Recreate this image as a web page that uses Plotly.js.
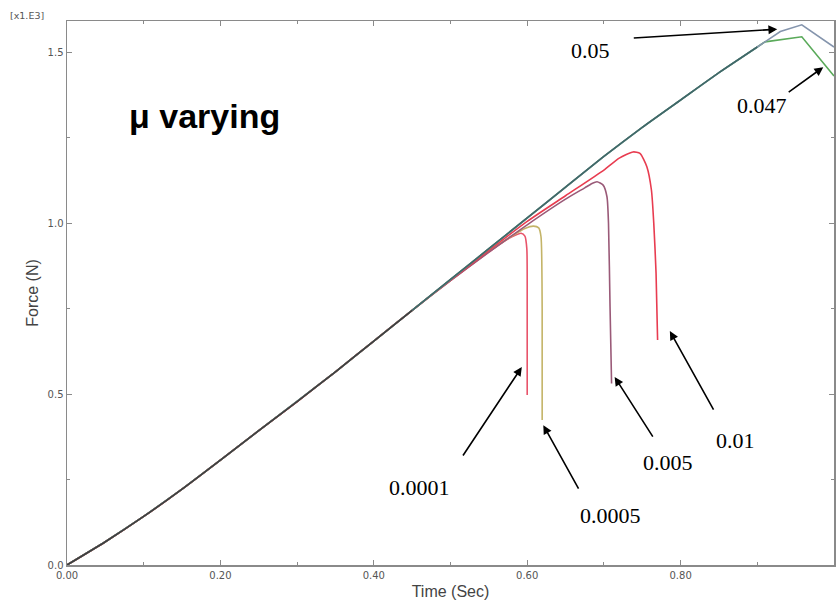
<!DOCTYPE html>
<html>
<head>
<meta charset="utf-8">
<script src="https://cdn.plot.ly/plotly-3.0.1.min.js"></script>
<style>html,body{margin:0;padding:0;background:#fff;}#chart{width:837px;height:602px;}</style>
</head>
<body>
<div id="chart"></div>
<script>
// Shared loading curve (all friction values), time in s, force in kN (x1.E3 N)
const tBase = [0, 0.05, 0.1, 0.15, 0.2, 0.25, 0.3, 0.35, 0.4, 0.45];
const fBase = [0, 0.068, 0.142, 0.222, 0.307, 0.393, 0.478, 0.565, 0.655, 0.745];

// Shared part of mu = 0.05 and mu = 0.047
const tUpper = [0.5, 0.55, 0.6, 0.65, 0.7, 0.75, 0.8, 0.85, 0.9];
const fUpper = [0.835, 0.925, 1.015, 1.105, 1.195, 1.28, 1.36, 1.44, 1.515];

// Series tails after divergence
const t005 = [0.93, 0.958, 1.0];
const f005 = [1.56, 1.58, 1.515];

const t0047 = [0.91, 0.958, 1.0];
const f0047 = [1.53, 1.545, 1.43];

const t001 = [0.5, 0.55, 0.6, 0.65, 0.7, 0.72, 0.738, 0.747, 0.756, 0.762, 0.765, 0.768, 0.770];
const f001 = [0.833, 0.92, 1.005, 1.08, 1.155, 1.19, 1.208, 1.204, 1.165, 1.096, 1.0, 0.853, 0.658];

const t0005 = [0.5, 0.55, 0.6, 0.65, 0.675, 0.684, 0.691, 0.699, 0.704, 0.706, 0.708, 0.710];
const f0005 = [0.832, 0.915, 0.995, 1.07, 1.103, 1.115, 1.121, 1.111, 1.077, 0.999, 0.755, 0.531];

const t00005 = [0.5, 0.55, 0.58, 0.597, 0.608, 0.615, 0.618, 0.6195, 0.6195];
const f00005 = [0.833, 0.918, 0.962, 0.984, 0.991, 0.986, 0.96, 0.75, 0.424];

const t00001 = [0.5, 0.55, 0.57, 0.585, 0.592, 0.597, 0.5995, 0.6, 0.6];
const f00001 = [0.832, 0.915, 0.947, 0.965, 0.970, 0.962, 0.925, 0.75, 0.497];

const labels = ['0.0001', '0.0005', '0.005', '0.01', '0.047', '0.05'];

function line(x, y, color, name, smooth) {
  const ln = {color: color, width: 1.6, shape: smooth ? 'spline' : 'linear'};
  if (smooth) ln.smoothing = smooth;
  return {x: x, y: y, type: 'scatter', mode: 'lines', name: name, line: ln, hoverinfo: 'skip'};
}

const traces = [
  line(tBase.concat(t00001), fBase.concat(f00001), '#e8546a', labels[0], 0.6),
  line(tBase.concat(t00005), fBase.concat(f00005), '#c4b468', labels[1], 0.6),
  line(tBase.concat(t0005), fBase.concat(f0005), '#9a5a78', labels[2], 0.6),
  line(tBase.concat(t001), fBase.concat(f001), '#e83c50', labels[3], 0.6),
  line(tBase.concat(tUpper, t0047), fBase.concat(fUpper, f0047), '#5aaa5a', labels[4]),
  line(tBase.concat(tUpper, t005), fBase.concat(fUpper, f005), '#8595ad', labels[5]),
  line(tBase.slice(-1).concat(tUpper), fBase.slice(-1).concat(fUpper), '#3f6868', 'shared', 0.6),
  line(tBase, fBase, '#3e3e3e', 'base', 0.6)
];

const numFont = {family: 'Liberation Serif', size: 22, color: '#000'};
function label(text, x, y) {
  return {x: x, y: y, xref: 'x', yref: 'y', text: text, showarrow: false,
          font: numFont, xanchor: 'center', yanchor: 'middle'};
}
function arrow(x0, y0, x1, y1) {
  return {x: x1, y: y1, ax: x0, ay: y0, xref: 'x', yref: 'y', axref: 'x', ayref: 'y',
          text: '', showarrow: true, arrowhead: 2, arrowsize: 1.1, arrowwidth: 1.6,
          arrowcolor: '#000', standoff: 0, startstandoff: 0};
}

const annotations = [
  label(labels[5], 0.683, 1.506), arrow(0.737, 1.541, 0.926, 1.567),
  label(labels[4], 0.906, 1.345), arrow(0.939, 1.380, 0.986, 1.456),
  label(labels[0], 0.460, 0.228), arrow(0.515, 0.316, 0.593, 0.579),
  label(labels[1], 0.708, 0.146), arrow(0.668, 0.219, 0.621, 0.409),
  label(labels[2], 0.784, 0.301), arrow(0.765, 0.371, 0.714, 0.550),
  label(labels[3], 0.871, 0.365), arrow(0.844, 0.450, 0.786, 0.684),
  {x: 0.078, y: 1.313, xref: 'x', yref: 'y', text: '<b>\u03bc varying</b>', showarrow: false,
   xanchor: 'left', yanchor: 'middle', font: {family: 'Liberation Sans', size: 34, color: '#000'}},
  {x: -0.052, y: 1.01, xref: 'paper', yref: 'paper', text: '[x1.E3]', showarrow: false,
   xanchor: 'center', yanchor: 'middle', font: {family: 'DejaVu Sans', size: 9.5, color: '#555'}}
];

const axisCommon = {
  showline: true, linecolor: '#8a8a8a', linewidth: 1.5, mirror: 'allticks',
  ticks: 'inside', ticklen: 5, tickwidth: 1, tickcolor: '#8a8a8a',
  showgrid: false, zeroline: false,
  tickfont: {family: 'DejaVu Sans', size: 10, color: '#555'}
};

const layout = {
  width: 837, height: 602,
  margin: {l: 67, r: 3, t: 21, b: 37},
  paper_bgcolor: '#fff', plot_bgcolor: '#fff',
  showlegend: false,
  xaxis: Object.assign({}, axisCommon, {
    range: [0, 1.0], dtick: 0.2, tick0: 0, tickformat: '.2f',
    minor: {ticks: 'inside', dtick: 0.1, ticklen: 3, tickcolor: '#8a8a8a'},
    title: {text: 'Time (Sec)', font: {family: 'Liberation Sans', size: 16, color: '#444'}, standoff: 6}
  }),
  yaxis: Object.assign({}, axisCommon, {
    range: [0, 1.591], dtick: 0.5, tick0: 0, tickformat: '.1f',
    minor: {ticks: 'inside', dtick: 0.25, ticklen: 3, tickcolor: '#8a8a8a'},
    title: {text: 'Force (N)', font: {family: 'Liberation Sans', size: 16, color: '#444'}, standoff: 5}
  }),
  annotations: annotations
};

Plotly.newPlot('chart', traces, layout, {displayModeBar: false, staticPlot: true});
</script>
</body>
</html>
